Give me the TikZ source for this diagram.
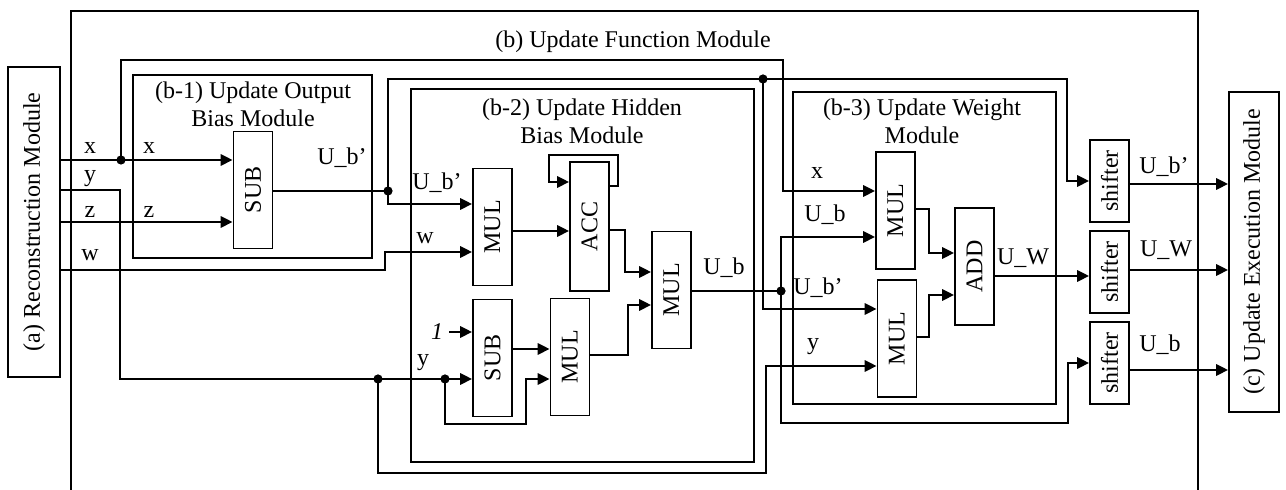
\documentclass[tikz,border=0pt]{standalone}
\usepackage{fontspec}
\setmainfont{Liberation Serif}
\usetikzlibrary{arrows.meta}

\newcommand{\vtext}[1]{\rotatebox{90}{#1}}

\tikzset{
  box/.style={line width=0.8pt},
  blk/.style={draw, line width=0.8pt, inner sep=0pt, minimum width=19.5pt, minimum height=58.5pt},
  shft/.style={blk, minimum height=41pt},
  modl/.style={draw, line width=0.8pt, inner sep=0pt, minimum width=25pt},
  wire/.style={line width=1.4pt},
  arr/.style={wire, -{Triangle[length=6pt,width=5.5pt]}},
  lbl/.style={inner sep=0pt},
}

\begin{document}
\begin{tikzpicture}[x=0.5pt, y=-0.5pt, font=\fontsize{12}{14}\selectfont]
    \useasboundingbox (0,0) rectangle (1286,490);

    % frame of the update function module (open at the bottom)
    \draw[box] (71,490) |- (1198,11) -- (1198,490);
    \node[lbl] (ttlb) at (633,42) {(b) Update Function Module};

    % modules on both sides
    \node[modl, minimum width=26pt, minimum height=155pt] (recon) at (34,222) {\vtext{(a) Reconstruction Module}};
    \node[modl, minimum height=160pt] (execm) at (1254,252) {\vtext{(c) Update Execution Module}};

    % sub-module frames
    \draw[box] (133,75) rectangle (372,258);
    \draw[box] (411,89) rectangle (754,462);
    \draw[box] (793,92) rectangle (1056,404);
    \node[lbl, align=center] (ttl1) at (253,104) {(b-1) Update Output\\Bias Module};
    \node[lbl, align=center] (ttl2) at (582,121) {(b-2) Update Hidden\\Bias Module};
    \node[lbl, align=center] (ttl3) at (922,121) {(b-3) Update Weight\\Module};

    % arithmetic blocks
    \node[blk] (subA) at (253,190) {\vtext{SUB}};
    \node[blk] (mulA) at (492.5,227) {\vtext{MUL}};
    \node[blk, minimum height=64.5pt] (acc) at (589.5,226.5) {\vtext{ACC}};
    \node[blk] (subB) at (492.5,358) {\vtext{SUB}};
    \node[blk] (mulB) at (570,357) {\vtext{MUL}};
    \node[blk] (mulC) at (671.5,290) {\vtext{MUL}};
    \node[blk] (mulD) at (895.5,210.5) {\vtext{MUL}};
    \node[blk] (mulE) at (897,338.5) {\vtext{MUL}};
    \node[blk] (addA) at (974.5,266.5) {\vtext{ADD}};
    \node[shft] (shft1) at (1109.5,181) {\vtext{shifter}};
    \node[shft] (shft2) at (1109.5,272) {\vtext{shifter}};
    \node[shft] (shft3) at (1109.5,363) {\vtext{shifter}};

    % branch points
    \coordinate (jx) at (121,160);
    \coordinate (jb1) at (388,191);
    \coordinate (jb2) at (763,79);
    \coordinate (jy1) at (378,379);
    \coordinate (jy2) at (445,379);
    \coordinate (jub) at (781,291);

    % x, y, z, w from the reconstruction module
    \draw[arr] (recon.east |- jx) -- (subA.west |- jx);
    \draw[arr] (jx) |- (783,60) |- (mulD.west |- 0,191);
    \draw[arr] (recon.east |- 0,190) -- (120,190) |- (jy1) -- (subB.west |- jy1);
    \draw[arr] (recon.east |- 0,222) -- (subA.west |- 0,222);
    \draw[arr] (recon.east |- 0,270) -- (385,270) |- (mulA.west |- 0,252);

    % U_b' out of (b-1)
    \draw[wire] (subA.east |- jb1) -- (jb1);
    \draw[arr] (jb1) |- (mulA.west |- 0,204);
    \draw[arr] (jb1) |- (jb2) -- (1067,79) |- (shft1.west);
    \draw[arr] (jb2) |- (mulE.west |- 0,309);

    % (b-2) datapath
    \draw[arr] (mulA.east |- 0,231) -- (acc.west |- 0,231);
    \draw[arr] (acc.east |- 0,186) -| (618,155) -| (549,182) -- (acc.west |- 0,182);
    \draw[arr] (acc.east |- 0,230) -| (625,272) -- (mulC.west |- 0,272);
    \node[lbl] (one) at (437,332) {\textit{1}};
    \draw[arr] ([xshift=3pt]one.east) -- (subB.west |- one.east);
    \draw[arr] (subB.east |- 0,349) -- (mulB.west |- 0,349);
    \draw[arr] (jy2) |- (526,424) |- (mulB.west |- jy2);
    \draw[arr] (mulB.east |- 0,355) -| (628,305) -- (mulC.west |- 0,305);
    \draw[wire] (mulC.east |- jub) -- (jub);

    % U_b and y towards (b-3) and the shifters
    \draw[arr] (jub) |- (mulD.west |- 0,237);
    \draw[arr] (jub) |- (1068,423) |- (shft3.west);
    \draw[arr] (jy1) |- (766,473) |- (mulE.west |- 0,366);

    % (b-3) datapath
    \draw[arr] (mulD.east |- 0,209) -| (929,253) -- (addA.west |- 0,253);
    \draw[arr] (mulE.east |- 0,337) -| (929,295) -- (addA.west |- 0,295);
    \draw[arr] (addA.east |- 0,276) -- (shft2.west |- 0,276);

    % shifter outputs
    \foreach \s/\yy in {shft1/184, shft2/270, shft3/370}
        \draw[arr] (\s.east |- 0,\yy) -- (execm.west |- 0,\yy);

    \foreach \j in {jx,jb1,jb2,jy1,jy2,jub}
        \fill (\j) circle[radius=2.3pt];

    % signal names
    \node[lbl] (lx0) at (90,148) {x};
    \node[lbl] (lx1) at (149,148) {x};
    \node[lbl] (ly0) at (90,179) {y};
    \node[lbl] (lz0) at (90,212) {z};
    \node[lbl] (lz1) at (149,212) {z};
    \node[lbl] (lw0) at (90,255) {w};
    \node[lbl] (lbp1) at (342,158) {U\_b’};
    \node[lbl] (lbp2) at (437,183) {U\_b’};
    \node[lbl] (lw1) at (425,238) {w};
    \node[lbl] (ly1) at (423,363) {y};
    \node[lbl] (lb2) at (724,268) {U\_b};
    \node[lbl] (lx2) at (817,173) {x};
    \node[lbl] (lb3) at (825,215) {U\_b};
    \node[lbl] (lbp3) at (818,288) {U\_b’};
    \node[lbl] (ly2) at (813,347) {y};
    \node[lbl] (lw2) at (1023,258) {U\_W};
    \node[lbl] (lbp4) at (1164,167) {U\_b’};
    \node[lbl] (lw3) at (1166,250) {U\_W};
    \node[lbl] (lb4) at (1160,345) {U\_b};
\end{tikzpicture}
\end{document}
